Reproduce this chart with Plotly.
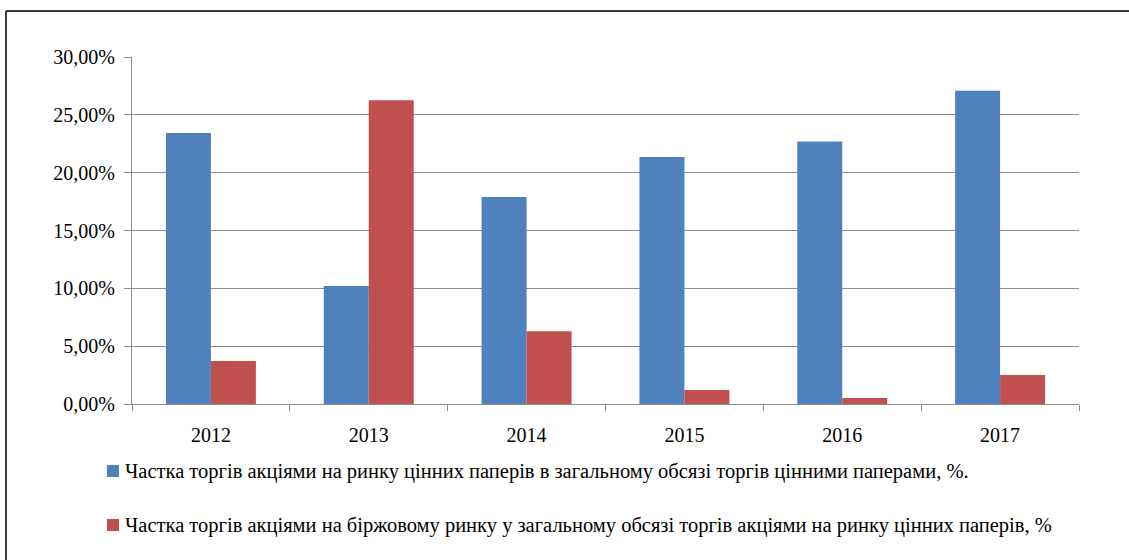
import plotly.graph_objects as go

# Years on the category axis
years = ["2012", "2013", "2014", "2015", "2016", "2017"]

# Share of stock trading in total securities trading, %
share_stocks_in_securities = [23.42, 10.20, 17.90, 21.35, 22.70, 27.08]

# Share of exchange stock trading in total stock trading, %
share_exchange_in_stocks = [3.72, 26.27, 6.30, 1.20, 0.52, 2.50]

series_names = [
    "Частка торгів акціями на ринку цінних паперів в загальному обсязі торгів цінними паперами, %.",
    "Частка торгів акціями на біржовому ринку у загальному обсязі торгів акціями на ринку цінних паперів, %",
]

y_ticks = [0, 5, 10, 15, 20, 25, 30]
y_tick_labels = ["0,00%", "5,00%", "10,00%", "15,00%", "20,00%", "25,00%", "30,00%"]

BLUE = "#4F81BD"
RED = "#C0504D"
GRID = "#8E8E8E"
FONT = "'Liberation Serif', 'Times New Roman', Times, serif"
colors = [BLUE, RED]

fig = go.Figure()
fig.add_trace(go.Bar(x=years, y=share_stocks_in_securities, name=series_names[0],
                     marker=dict(color=BLUE, line=dict(width=0))))
fig.add_trace(go.Bar(x=years, y=share_exchange_in_stocks, name=series_names[1],
                     marker=dict(color=RED, line=dict(width=0))))

W, H = 1129, 560
L, R, T, B = 132, 50, 57, 156
pw, ph = W - L - R, H - T - B


def px_x(x):
    return (x - L) / pw


def px_y(y):
    return 1 - (y - T) / ph


# outer frame edges (top and left)
frame = dict(color="#3a3a3a", width=2)
fig.add_shape(type="line", xref="paper", yref="paper",
              x0=px_x(6), x1=px_x(1135), y0=px_y(11), y1=px_y(11), line=frame)
fig.add_shape(type="line", xref="paper", yref="paper",
              x0=px_x(6), x1=px_x(6), y0=px_y(11), y1=px_y(565), line=frame)

# legend below the plot: colour square followed by the series name
legend_rows = [471, 525]
for name, color, row in zip(series_names, colors, legend_rows):
    fig.add_shape(type="rect", xref="paper", yref="paper",
                  x0=px_x(107), x1=px_x(119), y0=px_y(row - 6), y1=px_y(row + 6),
                  fillcolor=color, line=dict(width=0))
    fig.add_annotation(xref="paper", yref="paper", x=px_x(123), y=px_y(row),
                       xanchor="left", yanchor="middle", showarrow=False,
                       text=name, font=dict(family=FONT, size=20.5, color="#000000"))

fig.update_layout(
    width=W, height=H,
    margin=dict(l=L, r=R, t=T, b=B),
    paper_bgcolor="white", plot_bgcolor="white",
    barmode="group", bargap=0.43, bargroupgap=0,
    font=dict(family=FONT, size=20, color="#000000"),
    showlegend=False,
    xaxis=dict(
        type="category", showgrid=False, showline=True, linecolor=GRID, linewidth=1,
        ticks="outside", tickson="boundaries", ticklen=6, tickcolor=GRID,
        tickfont=dict(family=FONT, size=20), ticklabelstandoff=13,
    ),
    yaxis=dict(
        range=[0, 30], tickvals=y_ticks, ticktext=y_tick_labels,
        showgrid=True, gridcolor=GRID, gridwidth=1, zeroline=False,
        showline=True, linecolor=GRID, linewidth=1,
        ticks="outside", ticklen=7, tickcolor=GRID,
        tickfont=dict(family=FONT, size=20), ticklabelstandoff=5,
    ),
)

fig.write_html("out.html")
